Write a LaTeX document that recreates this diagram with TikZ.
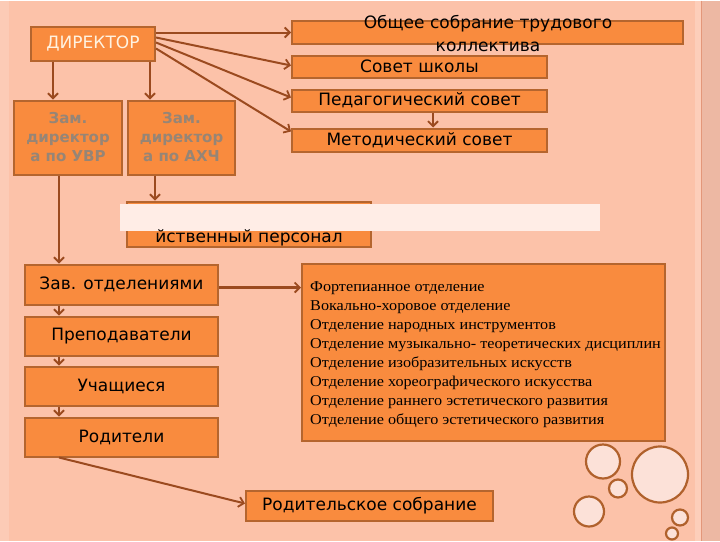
\documentclass[tikz,border=0pt]{standalone}
\usepackage{fontspec}
\setmainfont{DejaVu Sans}
\newfontfamily\listfont[FakeStretch=1.08]{Liberation Serif}
\usetikzlibrary{arrows.meta}
\definecolor{bgc}{HTML}{FCC2A9}
\definecolor{boxfill}{HTML}{F98B3E}
\definecolor{boxline}{HTML}{B5652E}
\definecolor{arrc}{HTML}{9B4A1F}
\definecolor{zamtext}{HTML}{968576}
\definecolor{dirtext}{HTML}{FFF2E0}
\definecolor{veil}{HTML}{FFEDE6}
\definecolor{bubfill}{HTML}{FCE1D8}
\definecolor{bubline}{HTML}{B0612C}
\definecolor{stripe}{HTML}{EDB8A3}
\definecolor{stripeline}{HTML}{E3977A}
\begin{document}
\begin{tikzpicture}[x=1pt,y=-1pt,
  box/.style={draw=boxline,line width=2pt,fill=boxfill,inner sep=0pt,text=black,
    font=\fontsize{17}{21}\selectfont},
  zam/.style={box,text=zamtext,align=center,font=\bfseries\fontsize{15}{19}\selectfont},
  arr/.style={draw=arrc,line width=2.6pt,-{Straight Barb[length=5pt,width=10pt,line width=1.8pt]}},
  tarr/.style={arr,line width=2pt},
  bub/.style={draw=bubline,line width=2.2pt,fill=bubfill}]
% background
\fill[bgc] (0,0) rectangle (720,540);
\fill[bgc!85!white] (0,0) rectangle (9,540);
\fill[bgc!80!white] (695,0) rectangle (701,540);
\fill[stripe] (702,0) rectangle (720,540);
\draw[stripeline,line width=1pt] (701.5,0) -- (701.5,540);
% top left
\node[box,minimum width=124pt,minimum height=34pt,text=dirtext] (dir) at (93,43) {ДИРЕКТОР};
\node[zam,minimum width=108pt,minimum height=74pt] (z1) at (68,137) {Зам.\\директор\\а по УВР};
\node[zam,minimum width=107pt,minimum height=74pt] (z2) at (181.5,137) {Зам.\\директор\\а по АХЧ};
% councils
\node[box,minimum width=391pt,minimum height=23pt] (obs) at (487.5,31.5) {};
\node[font=\fontsize{17}{23}\selectfont,align=center,inner sep=0pt] (obst) at (488,33.5) {Общее собрание трудового\\коллектива};
\node[box,minimum width=255pt,minimum height=22pt] (sov) at (419.5,66) {Совет школы};
\node[box,minimum width=255pt,minimum height=22pt] (ped) at (419.5,100) {Педагогический совет};
\node[box,minimum width=255pt,minimum height=23pt] (met) at (419.5,139.5) {Методический совет};
% personnel
\node[box,minimum width=244pt,minimum height=45pt] (pers) at (249,223.5) {};
\fill[veil] (120,203) rectangle (600,230);
\node[font=\fontsize{17}{21}\selectfont,inner sep=0pt] (perst) at (249,237) {йственный персонал};
% left column
\node[box,minimum width=193pt,minimum height=40pt] (zav) at (121.5,284) {Зав. отделениями};
\node[box,minimum width=193pt,minimum height=39pt] (pre) at (121.5,335.5) {Преподаватели};
\node[box,minimum width=193pt,minimum height=39pt] (uch) at (121.5,385.5) {Учащиеся};
\node[box,minimum width=193pt,minimum height=39pt] (rod) at (121.5,436.5) {Родители};
% departments
\node[box,minimum width=363pt,minimum height=177pt] (dep) at (483.5,351.5) {};
\node[anchor=west,align=left,inner sep=0pt,font=\listfont\fontsize{15}{19}\selectfont,text=black]
  (dept) at ([xshift=9pt,yshift=-3pt]dep.west) {Фортепианное отделение\\
Вокально-хоровое отделение\\
Отделение народных инструментов\\
Отделение музыкально- теоретических дисциплин\\
Отделение изобразительных искусств\\
Отделение хореографического искусства\\
Отделение раннего эстетического развития\\
Отделение общего эстетического развития};
\node[box,minimum width=247pt,minimum height=30pt] (rsob) at (369.5,505) {Родительское собрание};
% arrows
\draw[tarr] ([yshift=11pt]dir.east) -- ([yshift=-0.5pt]obs.west);
\draw[tarr] ([yshift=6pt]dir.east) -- ([yshift=1pt]sov.west);
\draw[tarr] ([yshift=1pt]dir.east) -- ([yshift=3pt]ped.west);
\draw[tarr] ([yshift=-5pt]dir.east) -- ([yshift=8.5pt]met.west);
\draw[arr] ([xshift=-40pt]dir.south) -- ([xshift=-40pt]dir.south |- z1.north);
\draw[arr] ([xshift=57pt]dir.south) -- ([xshift=57pt]dir.south |- z2.north);
\draw[arr] ([xshift=13.5pt]ped.south) -- ([xshift=13.5pt]ped.south |- met.north);
\draw[arr] ([xshift=-9pt]z1.south) -- ([xshift=-9pt]z1.south |- zav.north);
\draw[arr] ([xshift=-26.5pt]z2.south) -- ([xshift=-26.5pt]z2.south |- pers.north);
\draw[arr] ([xshift=-62.5pt]zav.south) -- ([xshift=-62.5pt]zav.south |- pre.north);
\draw[arr] ([xshift=-62.5pt]pre.south) -- ([xshift=-62.5pt]pre.south |- uch.north);
\draw[arr] ([xshift=-62.5pt]uch.south) -- ([xshift=-62.5pt]uch.south |- rod.north);
\draw[arr] ([yshift=-3pt]zav.east) -- ([yshift=-3pt]zav.east -| dep.west);
\draw[tarr] ([xshift=-62.5pt]rod.south) -- ([yshift=2pt]rsob.west);
% bubbles
\draw[bub] (603,461) circle (17);
\draw[bub] (618,488) circle (9);
\draw[bub] (589,511) circle (15);
\draw[bub] (660,474) circle (28);
\draw[bub] (680,517) circle (8);
\draw[bub] (672,533) circle (6);
\end{tikzpicture}
\end{document}
